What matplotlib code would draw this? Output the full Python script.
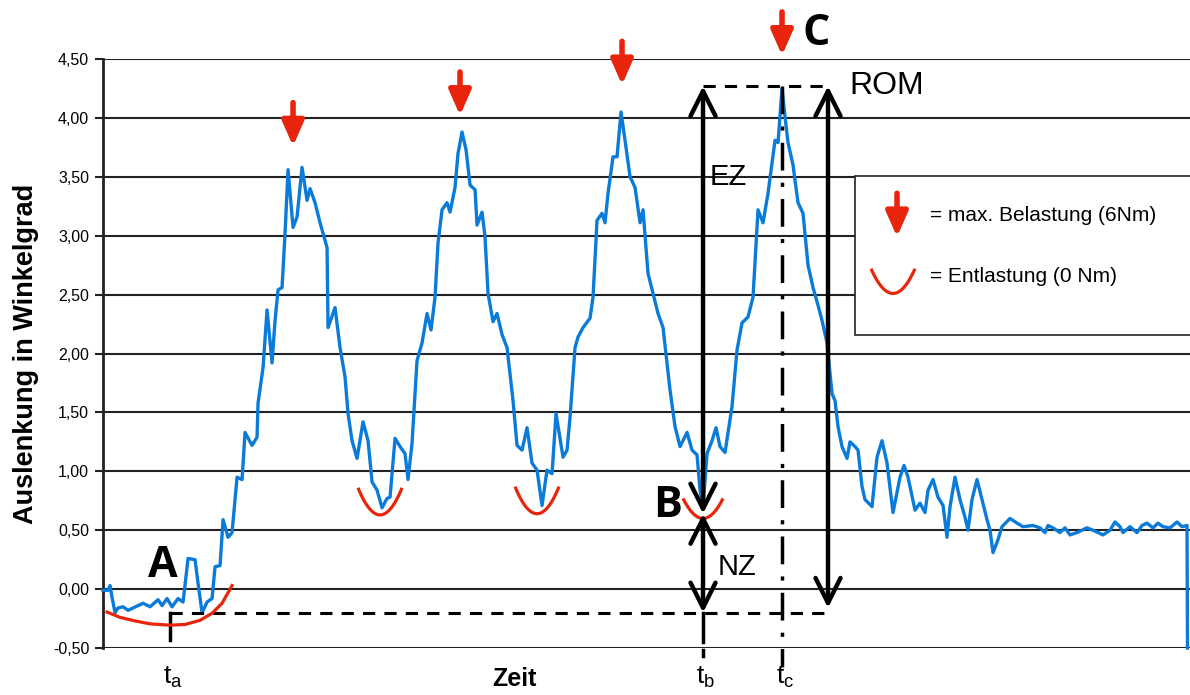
import numpy as np
import matplotlib.pyplot as plt
from matplotlib.patches import Rectangle

plt.rcParams['font.family'] = ['Liberation Sans', 'DejaVu Sans']
plt.rcParams['mathtext.fontset'] = 'custom'
plt.rcParams['mathtext.rm'] = 'Liberation Sans'

# Messkurve: Zeit (willkürliche Einheit) und Auslenkung in Grad
zeit = [0.0, 0.5, 0.7, 0.9, 1.2, 1.5, 2.0, 2.5, 3.0, 4.0, 4.7, 5.5, 5.9, 6.4, 6.9, 7.5, 8.0,
        8.5, 9.2, 9.5, 9.9, 10.4, 10.9, 11.2, 11.7, 12.0, 12.5, 12.9, 13.4, 13.9, 14.2, 14.9,
        15.4, 15.5, 16.0, 16.4, 16.9, 17.2, 17.5, 17.9, 18.2, 18.5, 19.0, 19.4, 19.9, 20.4,
        20.7, 21.2, 21.7, 22.4, 22.5, 23.2, 23.7, 24.2, 24.5, 24.9, 25.4, 26.0, 26.5, 26.9,
        27.4, 27.9, 28.4, 28.7, 29.2, 29.7, 30.2, 30.5, 30.9, 31.4, 31.9, 32.4, 32.8, 33.2,
        33.5, 33.9, 34.4, 34.7, 35.2, 35.5, 35.9, 36.3, 36.7, 37.2, 37.4, 37.9, 38.2, 38.5,
        39.0, 39.4, 39.9, 40.4, 41.0, 41.4, 41.9, 42.4, 42.9, 43.4, 43.9, 44.4, 44.9, 45.3,
        46.0, 46.4, 46.7, 47.2, 47.5, 48.0, 48.7, 49.0, 49.4, 49.9, 50.2, 50.5, 51.0, 51.4,
        51.8, 52.2, 52.7, 53.2, 53.7, 54.0, 54.5, 55.0, 55.5, 56.0, 56.7, 57.2, 57.7, 58.4,
        58.9, 59.4, 59.7, 60.0, 60.4, 60.9, 61.3, 61.7, 62.2, 62.9, 63.4, 63.9, 64.5, 65.0,
        65.5, 66.0, 66.5, 67.2, 67.5, 67.9, 68.2, 68.5, 69.0, 69.5, 70.0, 70.5, 71.0, 71.5,
        71.9, 72.4, 72.9, 73.2, 73.5, 73.9, 74.4, 74.7, 75.2, 75.5, 75.9, 76.2, 76.9, 77.4,
        77.9, 78.4, 79.0, 79.7, 80.1, 80.5, 81.2, 81.7, 82.2, 82.5, 83.0, 83.5, 84.0, 84.4,
        84.7, 85.2, 85.7, 86.2, 86.5, 86.9, 87.4, 87.9, 88.4, 88.7, 89.0, 89.5, 89.9, 90.7,
        91.4, 92.0, 93.0, 93.7, 94.2, 94.5, 95.0, 95.7, 96.2, 96.7, 97.4, 98.4, 99.0, 100.0,
        100.7, 101.2, 101.7, 102.0, 102.7, 103.4, 103.9, 104.4, 105.0, 105.5, 106.0, 106.7,
        107.4, 107.9, 108.4, 108.45]
auslenkung = [-0.01, -0.01, 0.03, -0.07, -0.20, -0.16, -0.15, -0.18, -0.16, -0.12, -0.15, -0.09,
              -0.14, -0.08, -0.15, -0.08, -0.11, 0.26, 0.25, 0.05, -0.20, -0.11, -0.08, 0.19,
              0.20, 0.59, 0.44, 0.48, 0.95, 0.93, 1.33, 1.22, 1.29, 1.58, 1.88, 2.37, 1.92, 2.28,
              2.54, 2.56, 3.02, 3.56, 3.07, 3.16, 3.58, 3.30, 3.40, 3.28, 3.11, 2.90, 2.22, 2.39,
              2.05, 1.80, 1.49, 1.26, 1.11, 1.42, 1.26, 0.91, 0.84, 0.69, 0.77, 0.78, 1.28, 1.21,
              1.15, 0.93, 1.24, 1.94, 2.09, 2.34, 2.20, 2.48, 2.94, 3.22, 3.28, 3.20, 3.41, 3.70,
              3.88, 3.73, 3.43, 3.39, 3.09, 3.20, 2.99, 2.51, 2.27, 2.34, 2.16, 2.05, 1.60, 1.22,
              1.18, 1.37, 1.07, 1.01, 0.71, 1.01, 0.98, 1.49, 1.12, 1.18, 1.46, 2.05, 2.14, 2.22,
              2.30, 2.48, 3.13, 3.19, 3.11, 3.36, 3.67, 3.67, 4.05, 3.81, 3.50, 3.41, 3.11, 3.22,
              2.68, 2.51, 2.34, 2.22, 1.69, 1.38, 1.21, 1.33, 1.18, 1.14, 0.84, 0.70, 1.15, 1.26,
              1.37, 1.21, 1.16, 1.55, 2.03, 2.26, 2.31, 2.48, 3.22, 3.11, 3.36, 3.81, 3.79, 4.25,
              4.01, 3.79, 3.60, 3.28, 3.19, 2.75, 2.56, 2.41, 2.28, 2.09, 1.66, 1.60, 1.38, 1.21,
              1.11, 1.25, 1.21, 1.18, 0.87, 0.76, 0.70, 1.12, 1.26, 1.07, 0.65, 0.95, 1.05, 0.95,
              0.67, 0.73, 0.65, 0.84, 0.93, 0.78, 0.71, 0.44, 0.70, 0.95, 0.76, 0.61, 0.50, 0.76,
              0.93, 0.76, 0.59, 0.50, 0.31, 0.42, 0.53, 0.60, 0.56, 0.53, 0.54, 0.52, 0.48, 0.54,
              0.52, 0.48, 0.52, 0.46, 0.48, 0.52, 0.50, 0.46, 0.50, 0.57, 0.53, 0.48, 0.53, 0.48,
              0.54, 0.56, 0.52, 0.56, 0.53, 0.52, 0.57, 0.53, 0.54, -0.50]

# Markierungen
belastung_t = [19.0, 35.7, 51.9, 67.9]          # rote Pfeile (max. Belastung)
belastung_v = [3.76, 4.02, 4.28, 4.53]           # Pfeilspitzen
entlastung_t = [27.7, 43.4, 60.0]                # rote Bögen (Entlastung)
entlastung_v = [0.63, 0.64, 0.60]
bogen_a_t = [0.4, 1.7, 3.2, 4.7, 6.7, 8.2, 9.7, 10.9, 11.9, 12.9]
bogen_a_v = [-0.195, -0.24, -0.27, -0.295, -0.306, -0.30, -0.265, -0.205, -0.12, 0.03]

t_a, t_b, t_c, t_rom = 6.7, 60.0, 67.9, 72.5
nz_v, b_v, rom_v = -0.20, 0.64, 4.27

blau = '#0a7bd8'
rot = '#e8250c'

fig = plt.figure(figsize=(11.9, 6.95), dpi=100)
ax = fig.add_axes([0.0866, 0.0676, 0.9134, 0.8475])
ax.set_xlim(0, 108.7)
ax.set_ylim(-0.5, 4.5)

yt = np.arange(-0.5, 4.51, 0.5)
ax.set_yticks(yt)
ax.set_yticklabels([f'{v:.2f}'.replace('.', ',') for v in yt], fontsize=11.5)
ax.set_xticks([])
ax.tick_params(axis='y', length=6, width=1.5, pad=4, color='#222222')
for v in yt:
    ax.axhline(v, color='#222222', lw=1.5, zorder=1)
for s in ['top', 'right', 'bottom']:
    ax.spines[s].set_visible(False)
ax.spines['left'].set_linewidth(2)
ax.spines['left'].set_color('#222222')

ax.set_ylabel('Auslenkung in Winkelgrad', fontsize=19.5, fontweight='bold', labelpad=10)
ax.text(41.1, -0.76, 'Zeit', fontsize=18, fontweight='bold', ha='center', va='center',
        clip_on=False)

# Messkurve
ax.plot(zeit, auslenkung, color=blau, lw=2.4, zorder=3, clip_on=False)

# Legendenkasten
ax.add_patch(Rectangle((75.2, 2.16), 40, 1.35, facecolor='white', edgecolor='#222222',
                       lw=1.2, zorder=2, clip_on=True))


def pfeil(x, y_tip, laenge=0.37):
    ax.annotate('', xy=(x, y_tip), xytext=(x, y_tip + laenge), annotation_clip=False,
                arrowprops=dict(arrowstyle='-|>,head_length=0.75,head_width=0.33',
                                color=rot, lw=4, mutation_scale=20, shrinkA=0, shrinkB=0),
                zorder=6)


def bogen(xc, v_min, breite=2.2, tiefe=0.23):
    xs = np.linspace(-1, 1, 40)
    ax.plot(xc + breite * xs, v_min + tiefe * xs ** 2, color=rot, lw=2.3, zorder=5,
            solid_capstyle='butt', clip_on=False)


for x, y in zip(belastung_t, belastung_v):
    pfeil(x, y)
for x, y in zip(entlastung_t, entlastung_v):
    bogen(x, y, breite=2.0 if x == t_b else 2.2, tiefe=0.17 if x == t_b else 0.23)
ax.plot(bogen_a_t, bogen_a_v, color=rot, lw=2.3, zorder=5)

# Legende
pfeil(79.4, 2.99)
bogen(79.0, 2.51, breite=2.2, tiefe=0.21)
ax.text(82.7, 3.17, '= max. Belastung (6Nm)', fontsize=15, va='center', zorder=6)
ax.text(82.7, 2.65, '= Entlastung (0 Nm)', fontsize=15, va='center', zorder=6)

# Hilfslinien
ax.plot([t_a, t_rom], [nz_v, nz_v], color='black', lw=2.2, ls=(0, (4, 3)), zorder=4)
ax.plot([t_b, t_rom], [rom_v, rom_v], color='black', lw=2.2, ls=(0, (4, 3)), zorder=4)
ax.plot([t_a, t_a], [nz_v, -0.43], color='black', lw=2.5, zorder=4, clip_on=False)
ax.plot([t_b, t_b], [nz_v, -0.45], color='black', lw=2.5, zorder=4, clip_on=False)
ax.plot([t_b, t_b], [-0.52, -0.57], color='black', lw=2.5, zorder=4, clip_on=False)
ax.plot([t_c, t_c], [rom_v, -0.66], color='black', lw=2.5, ls=(0, (8, 3.5, 1.2, 3.5)),
        zorder=4, clip_on=False)

pfeil_stil = dict(arrowstyle='<->,head_length=0.6,head_width=0.3', color='black', lw=3.2,
                  mutation_scale=30, shrinkA=0, shrinkB=0)
ax.annotate('', xy=(t_b, rom_v), xytext=(t_b, b_v), arrowprops=pfeil_stil, zorder=7)
ax.annotate('', xy=(t_b, nz_v), xytext=(t_b, b_v), arrowprops=pfeil_stil, zorder=7)
ax.annotate('', xy=(t_rom, rom_v), xytext=(t_rom, nz_v + 0.04), arrowprops=pfeil_stil, zorder=7)

# Beschriftungen
gross = dict(fontsize=31, fontweight='bold', family=['Open Sans', 'DejaVu Sans'],
             ha='center', va='center', zorder=8, clip_on=False)
ax.text(6.0, 0.20, 'A', **gross)
ax.text(56.5, 0.71, 'B', **gross)
ax.text(71.3, 4.72, 'C', **gross)
ax.text(74.6, 4.27, 'ROM', fontsize=23, va='center')
ax.text(60.7, 3.50, 'EZ', fontsize=21, va='center')
ax.text(61.5, 0.19, 'NZ', fontsize=21, va='center')
for x, s in [(t_a, 'a'), (t_b, 'b'), (t_c, 'c')]:
    ax.text(x + 0.3, -0.75, r'$\mathrm{t_%s}$' % s, fontsize=19, ha='center', va='center',
            clip_on=False)

fig.savefig('out.png', dpi=100)
